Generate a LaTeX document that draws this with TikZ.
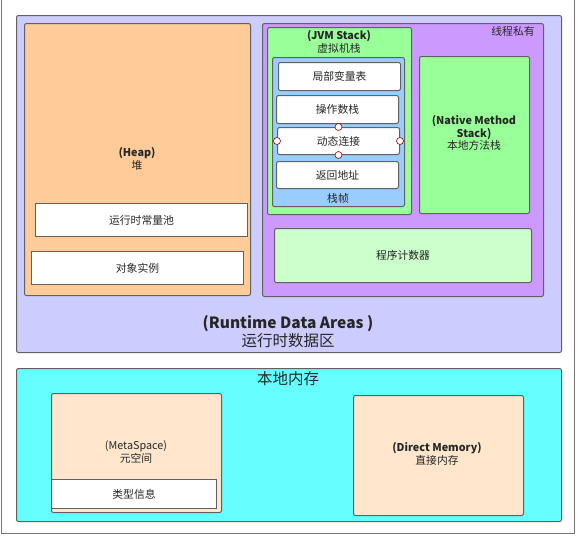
\documentclass[tikz,border=0pt]{standalone}
\usepackage{fontspec}
\setmainfont{Noto Sans CJK SC}
\begin{document}
\begin{tikzpicture}[x=1pt,y=-1pt,
  box/.style={draw=black!62, line width=1pt, rounded corners=2pt, inner sep=0pt, anchor=north west},
  lbl/.style={text=black!85, font=\fontsize{10.8}{12.8}\selectfont, align=center, inner sep=0pt},
  big/.style={text=black!85, font=\fontsize{15.5}{18}\selectfont, align=center, inner sep=0pt},
  handle/.style={circle, draw=red!60!black, fill=white, line width=0.6pt, minimum size=7pt, inner sep=0pt}]
\useasboundingbox (0,0) rectangle (579,536);
\draw[black!55, line width=1pt, fill=white] (1,-5) rectangle (574,533);
% runtime data areas
\node (rda) [box, fill={rgb,255:red,204;green,204;blue,255}, minimum width=545pt, minimum height=337pt] at (16,15) {};
\node (heap) [box, fill={rgb,255:red,255;green,204;blue,153}, minimum width=226pt, minimum height=272pt] at (24,23) {};
\node (pool) [box, fill=white, rounded corners=0pt, minimum width=212pt, minimum height=33pt] at (35,203) {};
\node (obj) [box, fill=white, rounded corners=0pt, minimum width=212pt, minimum height=33pt] at (31,251) {};
\node (priv) [box, fill={rgb,255:red,204;green,153;blue,255}, minimum width=281pt, minimum height=273pt] at (262,23) {};
\node (jvm) [box, fill={rgb,255:red,153;green,255;blue,153}, minimum width=144pt, minimum height=187pt] at (267,27) {};
\node (sf) [box, fill={rgb,255:red,153;green,204;blue,255}, minimum width=132pt, minimum height=149pt] at (272,57) {};
\node (local) [box, fill=white, minimum width=122pt, minimum height=28pt] at (278,62) {};
\node (ops) [box, fill=white, minimum width=122pt, minimum height=28pt] at (276,95) {};
\node (dyn) [box, fill=white, minimum width=122pt, minimum height=27pt] at (277,127) {};
\node (ret) [box, fill=white, minimum width=122pt, minimum height=27pt] at (276,161) {};
\node (native) [box, fill={rgb,255:red,153;green,255;blue,153}, minimum width=110pt, minimum height=157pt] at (419,56) {};
\node (pc) [box, fill={rgb,255:red,204;green,255;blue,204}, minimum width=257pt, minimum height=54pt] at (274,228) {};
% native memory
\node (nm) [box, fill={rgb,255:red,102;green,255;blue,255}, minimum width=545pt, minimum height=153pt] at (16,368) {};
\node (meta) [box, fill={rgb,255:red,255;green,230;blue,204}, minimum width=170pt, minimum height=119pt] at (51,393) {};
\node (klass) [box, fill=white, rounded corners=0pt, minimum width=165pt, minimum height=29pt] at (51,479) {};
\node (direct) [box, fill={rgb,255:red,255;green,230;blue,204}, minimum width=170pt, minimum height=120pt] at (353,395) {};
% handles
\node (h1) [handle] at (dyn.north) {};
\node (h2) [handle] at (dyn.south) {};
\node (h3) [handle] at (dyn.west) {};
\node (h4) [handle] at (dyn.east) {};
% labels
\node (tHeap) [lbl] at (137,159) {\textbf{(Heap)}\\堆};
\node (tPool) [lbl] at (pool.center) {运行时常量池};
\node (tObj) [lbl] at (obj.center) {对象实例};
\node (tPriv) [lbl] at (513,31) {线程私有};
\node (tJvm) [lbl] at (339,42) {\textbf{(JVM Stack)}\\虚拟机栈};
\node (tLocal) [lbl] at (local.center) {局部变量表};
\node (tOps) [lbl] at (ops.center) {操作数栈};
\node (tDyn) [lbl] at (dyn.center) {动态连接};
\node (tRet) [lbl] at (ret.center) {返回地址};
\node (tSf) [lbl] at (338,198) {栈帧};
\node (tNative) [lbl] at (474,133) {\textbf{(Native Method}\\\textbf{Stack)}\\本地方法栈};
\node (tPc) [lbl] at (pc.center) {程序计数器};
\node (tRda) [big] at (288,332) {\textbf{(Runtime Data Areas )}\\运行时数据区};
\node (tNm) [big] at (288,379) {本地内存};
\node (tMeta) [lbl] at (136,452) {(MetaSpace)\\元空间};
\node (tKlass) [lbl] at (klass.center) {类型信息};
\node (tDirect) [lbl] at (437,454) {\textbf{(Direct Memory)}\\直接内存};
\end{tikzpicture}
\end{document}
